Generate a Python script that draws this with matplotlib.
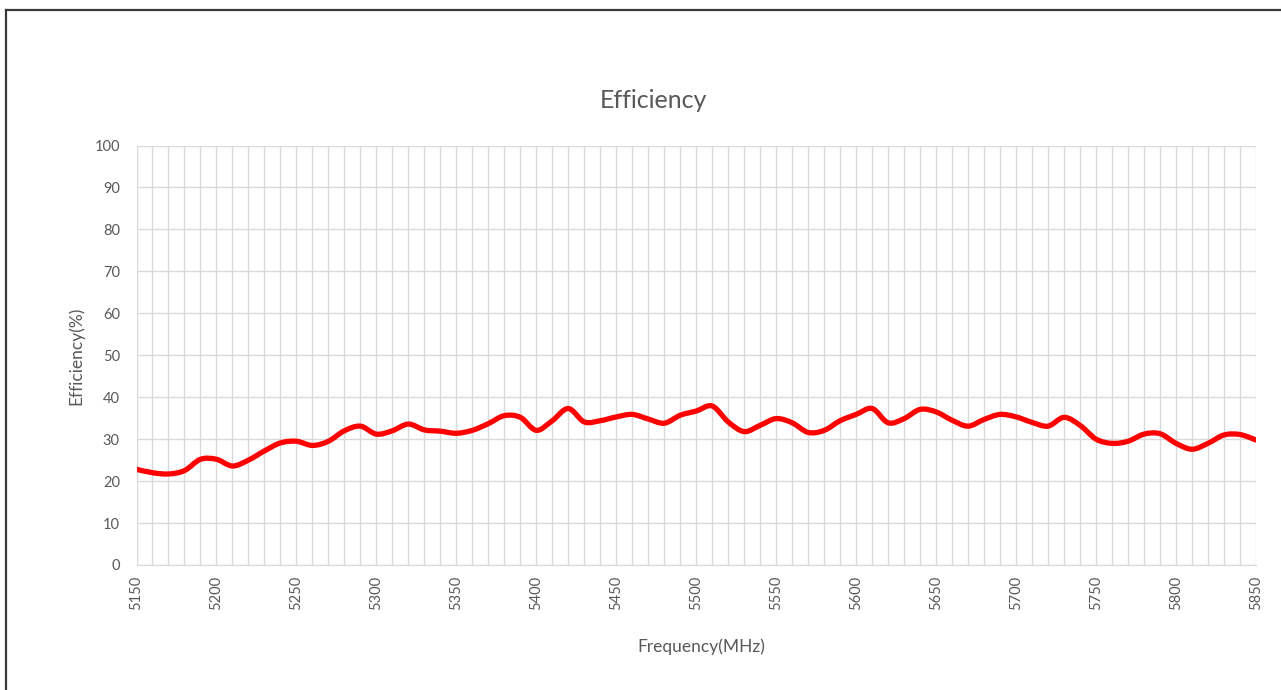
import matplotlib
matplotlib.use("Agg")
import matplotlib.pyplot as plt
from matplotlib.path import Path
from matplotlib.patches import PathPatch
import numpy as np

plt.rcParams['font.family'] = ['Lato', 'DejaVu Sans']

freq_mhz = list(range(5150, 5851, 10))
efficiency = [
    22.8, 22.0, 21.7, 22.5, 25.2, 25.2, 23.6, 25.0, 27.2, 29.1,
    29.5, 28.5, 29.5, 32.0, 33.1, 31.2, 32.0, 33.6, 32.2, 31.9,
    31.4, 32.1, 33.7, 35.6, 35.2, 32.1, 34.4, 37.3, 34.1, 34.4,
    35.3, 35.9, 34.8, 33.8, 35.7, 36.7, 37.9, 34.1, 31.8, 33.3,
    34.9, 33.9, 31.6, 32.1, 34.4, 35.9, 37.3, 33.9, 34.9, 37.1,
    36.5, 34.5, 33.1, 34.7, 35.9, 35.3, 34.0, 33.1, 35.2, 33.3,
    30.0, 29.0, 29.5, 31.2, 31.3, 29.0, 27.6, 29.0, 31.0, 31.1,
    29.8,
]
x_ticks = list(range(5150, 5851, 50))
y_ticks = list(range(0, 101, 10))

title = "Efficiency"
xlabel = "Frequency(MHz)"
ylabel = "Efficiency(%)"

W, H = 1281, 690
fig = plt.figure(figsize=(W / 100, H / 100), dpi=100)
fig.patch.set_facecolor("white")

# outer frame lines (top and left)
fig.add_artist(plt.Line2D([5.5 / W, 1.0], [1 - 9.5 / H, 1 - 9.5 / H], color="#3a3a3a", lw=1.6))
fig.add_artist(plt.Line2D([5.5 / W, 5.5 / W], [0.0, 1 - 9.5 / H], color="#3a3a3a", lw=1.6))

left, right = 136.5 / W, 1256 / W
bottom, top = 1 - 565 / H, 1 - 145.5 / H
ax = fig.add_axes([left, bottom, right - left, top - bottom])

# smooth curve via Bezier path (Excel-like smoothed line)
xs = np.array(freq_mhz, dtype=float)
ys = np.array(efficiency, dtype=float)
pts = np.column_stack([xs, ys])
n = len(pts)
verts = [pts[0]]
codes = [Path.MOVETO]
for i in range(n - 1):
    p0 = pts[i - 1] if i > 0 else pts[i]
    p1 = pts[i]
    p2 = pts[i + 1]
    p3 = pts[i + 2] if i + 2 < n else pts[i + 1]
    c1 = p1 + (p2 - p0) / 6.0
    c2 = p2 - (p3 - p1) / 6.0
    verts += [c1, c2, p2]
    codes += [Path.CURVE4] * 3
path = Path(verts, codes)
ax.add_patch(PathPatch(path, fill=False, edgecolor="#ff0000", lw=3.8,
                       capstyle="round", joinstyle="round", zorder=3))

ax.set_xlim(5150, 5850)
ax.set_ylim(0, 100)
ax.set_xticks(x_ticks)
ax.set_xticks(freq_mhz, minor=True)
ax.set_yticks(y_ticks)
ax.grid(True, which="both", axis="x", color="#d9d9d9", lw=1.0)
ax.grid(True, which="major", axis="y", color="#d9d9d9", lw=1.0)
ax.set_axisbelow(True)
for s in ["top", "right", "left"]:
    ax.spines[s].set_visible(False)
ax.spines["bottom"].set_color("#d9d9d9")
ax.tick_params(axis="both", which="both", length=0, colors="#595959", labelsize=10.5)
ax.tick_params(axis="x", pad=8)
ax.tick_params(axis="y", pad=12)
ax.set_xticklabels([str(v) for v in x_ticks], rotation=90)

fig.text(653 / W, 1 - 100 / H, title, ha="center", va="center", fontsize=18, color="#595959")
fig.text(701 / W, 1 - 647 / H, xlabel, ha="center", va="center", fontsize=12.5, color="#595959")
fig.text(76 / W, 1 - 356 / H, ylabel, ha="center", va="center", rotation=90, fontsize=12.5, color="#595959")

fig.savefig("out.png", dpi=100, facecolor="white")
